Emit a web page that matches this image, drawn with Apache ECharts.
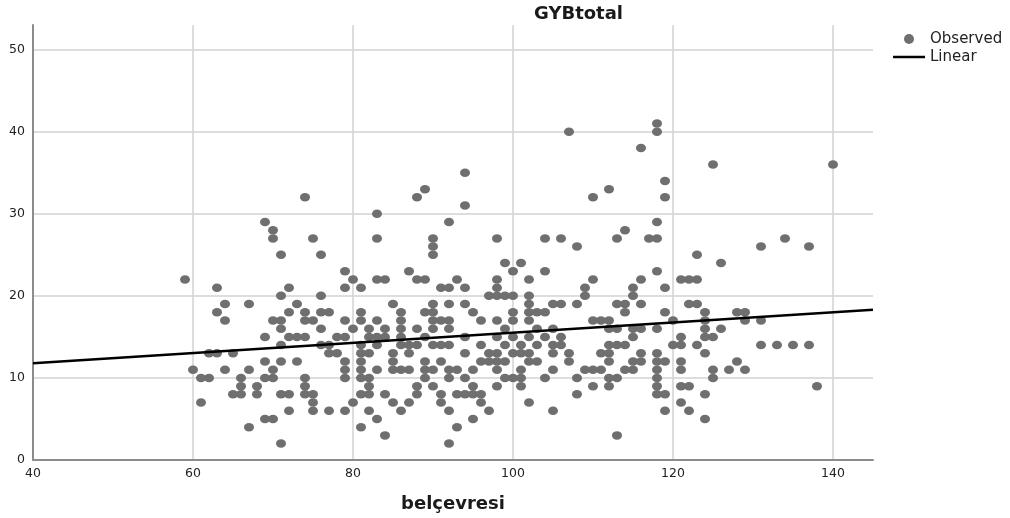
<!DOCTYPE html>
<html><head><meta charset="utf-8">
<script src="https://cdn.jsdelivr.net/npm/echarts@6/dist/echarts.min.js"></script>
<style>html,body{margin:0;padding:0;background:#fff}#c{width:1010px;height:518px}</style>
</head><body><div id="c"></div>
<script>
// x value (belçevresi) of each column of observed points
const colX = [59,60,61,62,63,64,65,66,67,68,69,70,71,72,73,74,75,76,77,78,79,80,
  81,82,83,84,85,86,87,88,89,90,91,92,93,94,95,96,97,98,99,100,101,102,103,104,
  105,106,107,108,109,110,111,112,113,114,115,116,117,118,119,120,121,122,123,124,
  125,126,127,128,129,131,133,134,135,137,138,140];
// GYBtotal values observed at each x above
const colY = [
  [22],[11],[10,7],[13,10],[21,18,13],[19,17,11],[13,8],[10,9,8],[19,11,4],[9,8],
  [29,15,12,10,5],[28,27,17,11,10,5],[25,20,17,16,14,12,8,2],[21,18,15,8,6],[19,15,12],
  [32,18,17,15,10,9,8],[27,17,8,7,6],[25,20,18,16,14],[18,14,13,6],[15,13],
  [23,21,17,15,12,11,10,6],[22,16,7],[21,18,17,14,13,12,11,10,8,4],[16,15,13,10,9,8,6],
  [30,27,22,17,15,14,11,5],[22,16,15,8,3],[19,13,12,11,7],[18,17,16,15,14,11,6],
  [23,14,13,11,7],[32,22,16,14,9,8],[33,22,18,15,12,11,10],[27,26,25,19,18,17,16,14,11,9],
  [21,17,14,12,8,7],[29,21,19,17,16,14,11,10,6,2],[22,11,8,4],[35,31,21,19,15,13,10,8],
  [18,11,9,8,5],[17,14,12,8,7],[20,13,12,6],[27,22,21,20,17,15,13,12,11,9],
  [24,20,16,14,12,10],[23,20,18,17,15,13,10],[24,14,13,11,10,9],[22,20,19,18,17,15,13,12,7],
  [18,16,14,12],[27,23,18,15,10],[19,16,14,13,11,6],[27,19,15,14],[40,13,12],[26,19,10,8],
  [21,20,11],[32,22,17,11,9],[17,13,11],[33,17,16,14,13,12,10,9],[27,19,16,14,10,3],
  [28,19,18,14,11],[21,20,16,15,12,11],[38,22,19,16,13,12],[27],
  [41,40,29,27,23,16,13,12,11,10,9,8],[34,32,21,18,12,8,6],[17,14],[22,15,14,12,11,9,7],
  [22,19,9,6],[25,22,19,14],[18,17,16,15,13,8,5],[36,15,11,10],[24,16],[11],[18,12],
  [18,17,11],[26,17,14],[14],[27],[14],[26,14],[9],[36]
];
// Linear fit line end points
const lineX = [40, 145];
const lineY = [11.8, 18.3];
const xTicks = [40, 60, 80, 100, 120, 140];
const yTicks = [0, 10, 20, 30, 40, 50];

const observed = [];
colX.forEach((x, i) => colY[i].forEach(y => observed.push([x, y])));
const linear = lineX.map((x, i) => [x, lineY[i]]);

const FONT = 'DejaVu Sans';
const chart = echarts.init(document.getElementById('c'), null, {renderer: 'canvas'});
chart.setOption({
  animation: false,
  backgroundColor: '#fff',
  textStyle: {fontFamily: FONT},
  title: {
    text: 'GYBtotal', left: 534, top: 5, padding: 0,
    textStyle: {fontFamily: FONT, fontSize: 18, fontWeight: 'bold', color: '#1a1a1a'}
  },
  legend: {
    orient: 'vertical', left: 893, top: 30, padding: 0,
    itemWidth: 32, itemHeight: 10, itemGap: 0,
    textStyle: {fontFamily: FONT, fontSize: 15, color: '#222', lineHeight: 18},
    data: [
      {name: 'Observed', icon: 'circle', itemStyle: {color: '#6f6f6f'}},
      {name: 'Linear', icon: 'path://M0,0 L32,0 L32,2.5 L0,2.5 Z', itemStyle: {color: '#000'}}
    ]
  },
  grid: {left: 33, right: 137, top: 25, bottom: 58, outerBoundsMode: 'none', containLabel: false},
  xAxis: {
    type: 'value', min: xTicks[0], max: 145, interval: 20,
    name: 'belçevresi', nameLocation: 'middle', nameGap: 35,
    nameTextStyle: {fontFamily: FONT, fontSize: 18, fontWeight: 'bold', color: '#1a1a1a'},
    axisLine: {show: true, onZero: false, lineStyle: {color: '#8c8c8c', width: 2}},
    axisTick: {show: false},
    axisLabel: {margin: 7, fontFamily: FONT, fontSize: 12.5, color: '#222', showMaxLabel: false,
      formatter: v => xTicks.includes(v) ? String(v) : ''},
    splitLine: {show: true, showMinLine: false, showMaxLine: false, lineStyle: {color: '#d2d2d2', width: 1.5}}
  },
  yAxis: {
    type: 'value', min: yTicks[0], max: 53, interval: 10,
    axisLine: {show: true, onZero: false, lineStyle: {color: '#8c8c8c', width: 2}},
    axisTick: {show: false},
    axisLabel: {margin: 8, fontFamily: FONT, fontSize: 12.5, color: '#222', showMaxLabel: false,
      formatter: v => yTicks.includes(v) ? String(v) : ''},
    splitLine: {show: true, showMinLine: false, showMaxLine: false, lineStyle: {color: '#d2d2d2', width: 1.5}}
  },
  series: [
    {
      name: 'Observed', type: 'scatter', data: observed,
      symbol: 'circle', symbolSize: [10, 8.5],
      itemStyle: {color: '#6f6f6f', opacity: 1}, z: 2
    },
    {
      name: 'Linear', type: 'line', data: linear, symbol: 'none',
      lineStyle: {color: '#000', width: 2.5}, z: 3
    }
  ]
});
</script>
</body></html>
